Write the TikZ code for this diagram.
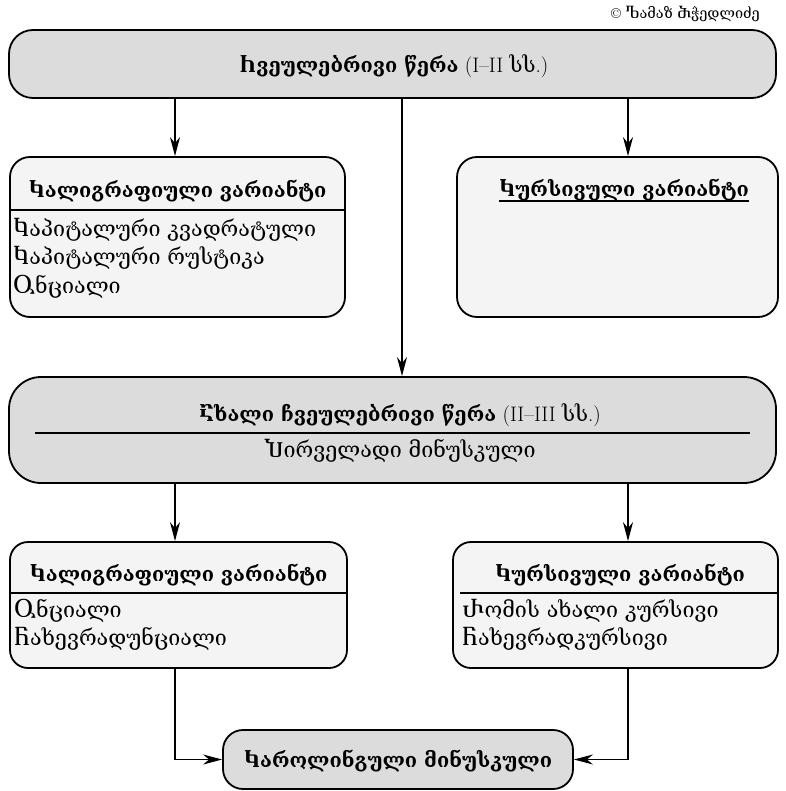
\documentclass[tikz,border=0pt]{standalone}
\usepackage{fontspec}
\newfontfamily\geo{DejaVu Serif}
\usetikzlibrary{arrows.meta}
\definecolor{boxgray}{HTML}{DCDCDC}
\definecolor{boxlight}{HTML}{F4F4F4}
\newcommand{\gb}{\fontsize{20}{24}\selectfont\geo\bfseries}
\newcommand{\gr}{\fontsize{21.5}{25}\selectfont\geo}
\begin{document}
\begin{tikzpicture}[x=1pt,y=-1pt,
  box/.style={draw=black, line width=1.8pt, rounded corners=#1, inner sep=0pt},
  graybox/.style={box=#1, fill=boxgray},
  lightbox/.style={box=#1, fill=boxlight},
  txt/.style={inner sep=0pt, anchor=base, font=\fontsize{21}{25}\selectfont},
  item/.style={inner sep=0pt, anchor=base west, font=\gr},
  arr/.style={line width=1.4pt, -{Stealth[length=19pt, width=10pt, inset=6pt]}},
  rulel/.style={line width=1.8pt},
  ]
\useasboundingbox (0,0) rectangle (785,791);

% boxes
\node[graybox=24, minimum width=767, minimum height=68] (top) at (392.5,64) {};
\node[lightbox=20, minimum width=335, minimum height=160] (left1) at (177.5,237) {};
\node[lightbox=20, minimum width=321, minimum height=160] (right1) at (617.5,237) {};
\node[graybox=32, minimum width=767, minimum height=106] (mid) at (392.5,430) {};
\node[lightbox=18, minimum width=337, minimum height=126] (bl) at (178.5,605) {};
\node[lightbox=18, minimum width=325, minimum height=126] (br) at (615.5,605) {};
\node[graybox=20, minimum width=350, minimum height=59] (bot) at (398,759.5) {};

% copyright
\node[inner sep=0pt, anchor=base east, font=\fontsize{14.5}{17}\selectfont] (copy) at (760,19) {©\ {\geo Ⴊამაზ Ⴋჭედლიძე}};

% texts
\node[txt] (t0) at (394,73) {{\gb Ⴙვეულებრივი წერა} (I–II {\gr სს}.)};

\node[txt] (t1) at (177.5,198) {\gb Ⴉალიგრაფიული ვარიანტი};
\coordinate (r1) at (0,210);
\draw[rulel] ([xshift=1pt]left1.west |- r1) -- ([xshift=-1pt]left1.east |- r1);
\node[item] (i11) at (13,237) {Ⴉაპიტალური კვადრატული};
\node[item] (i12) at (13,265) {Ⴉაპიტალური რუსტიკა};
\node[item] (i13) at (13,293) {Ⴓნციალი};

\node[txt] (t2) at (624,197) {\gb Ⴉურსივული ვარიანტი};
\draw[line width=1.4pt] ([yshift=-4pt]t2.base west) -- ([yshift=-4pt]t2.base east);

\node[txt] (t3) at (400,421) {{\gb Ⴀხალი ჩვეულებრივი წერა} (II–III {\gr სს}.)};
\coordinate (r3) at (0,433);
\draw[rulel] ([xshift=27pt]mid.west |- r3) -- ([xshift=-27pt]mid.east |- r3);
\node[txt, font=\gr] (t3b) at (400,457) {Ⴎირველადი მინუსკული};

\node[txt] (t4) at (178.5,581) {\gb Ⴉალიგრაფიული ვარიანტი};
\coordinate (r4) at (0,593);
\draw[rulel] ([xshift=1pt]bl.west |- r4) -- ([xshift=-1pt]bl.east |- r4);
\node[item] (i41) at (14,617) {Ⴓნციალი};
\node[item] (i42) at (14,645) {Ⴌახევრადუნციალი};

\node[txt] (t5) at (620,581) {\gb Ⴉურსივული ვარიანტი};
\coordinate (r5) at (0,593);
\draw[rulel] ([xshift=8pt]br.west |- r5) -- ([xshift=-1pt]br.east |- r5);
\node[item] (i51) at (462,617) {Ⴐომის ახალი კურსივი};
\node[item] (i52) at (462,645) {Ⴌახევრადკურსივი};

\node[txt] (t6) at (398,767) {\gb Ⴉაროლინგული მინუსკული};

% connectors
\coordinate (a1) at (175,0);
\coordinate (a2) at (402,0);
\coordinate (a3) at (628,0);
\draw[arr] (top.south -| a1) -- (left1.north -| a1);
\draw[arr] (top.south -| a2) -- (mid.north -| a2);
\draw[arr] (top.south -| a3) -- (right1.north -| a3);
\draw[arr] (mid.south -| a1) -- (bl.north -| a1);
\draw[arr] (mid.south -| a3) -- (br.north -| a3);
\draw[arr] (bl.south -| a1) |- (bot.west);
\draw[arr] (br.south -| a3) |- (bot.east);
\end{tikzpicture}
\end{document}
